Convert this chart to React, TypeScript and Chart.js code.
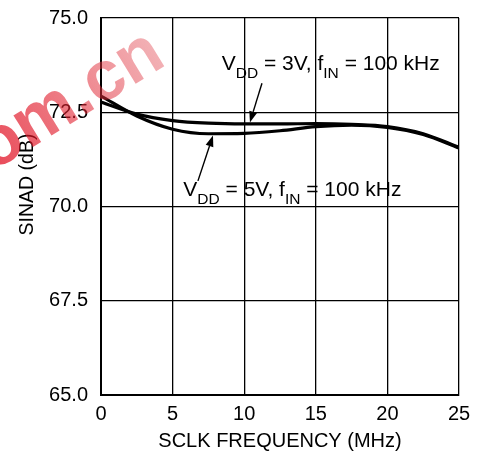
import React, { useEffect, useRef } from "react";
import { Chart, registerables } from "chart.js";

Chart.register(...registerables);

const sclkMHz = [0, 2.5, 5, 7.5, 10, 12.5, 15, 17.5, 20, 22.5, 25];
const sinad3V = [72.77, 72.45, 72.28, 72.21, 72.19, 72.19, 72.2, 72.18, 72.12, 71.93, 71.57];
const sinad5V = [72.93, 72.4, 72.05, 71.93, 71.94, 72.01, 72.12, 72.16, 72.1, 71.91, 71.55];
const xTickValues = [0, 5, 10, 15, 20, 25];
const yTickValues = [65, 67.5, 70, 72.5, 75];
const xTitle = "SCLK FREQUENCY (MHz)";
const yTitle = "SINAD (dB)";
const watermarkText = "om.cn";

// annotation labels: text pieces (normal / subscript), anchor and arrow in data units
const label3V = [["V", false], ["DD", true], [" = 3V, f", false], ["IN", true], [" = 100 kHz", false]];
const label5V = [["V", false], ["DD", true], [" = 5V, f", false], ["IN", true], [" = 100 kHz", false]];
const annotations = [
  { parts: label3V, x: 8.43, y: 73.61, from: [11.24, 73.27], to: [10.4, 72.23] },
  { parts: label5V, x: 5.75, y: 70.28, from: [6.77, 70.68], to: [7.82, 71.88] },
];

const FONT = "'Liberation Sans', Arial, Helvetica, sans-serif";

const annotationPlugin = {
  id: "annotations",
  afterDatasetsDraw(chart: any) {
    const { ctx, scales } = chart;
    const xs = scales.x;
    const ys = scales.y;
    ctx.save();
    ctx.fillStyle = "#000";
    ctx.strokeStyle = "#000";
    ctx.textBaseline = "alphabetic";
    for (const a of annotations) {
      let px = xs.getPixelForValue(a.x);
      const py = ys.getPixelForValue(a.y);
      for (const [t, sub] of a.parts as any) {
        ctx.font = sub ? `15.5px ${FONT}` : `21px ${FONT}`;
        ctx.fillText(t, px, sub ? py + 8 : py);
        px += ctx.measureText(t).width;
      }
      const x1 = xs.getPixelForValue(a.from[0]);
      const y1 = ys.getPixelForValue(a.from[1]);
      const x2 = xs.getPixelForValue(a.to[0]);
      const y2 = ys.getPixelForValue(a.to[1]);
      const ang = Math.atan2(y2 - y1, x2 - x1);
      const L = 11;
      const W = 4;
      const bx = x2 - L * Math.cos(ang);
      const by = y2 - L * Math.sin(ang);
      ctx.lineWidth = 1.4;
      ctx.beginPath();
      ctx.moveTo(x1, y1);
      ctx.lineTo(bx, by);
      ctx.stroke();
      ctx.beginPath();
      ctx.moveTo(x2, y2);
      ctx.lineTo(bx + W * Math.sin(ang), by - W * Math.cos(ang));
      ctx.lineTo(bx - W * Math.sin(ang), by + W * Math.cos(ang));
      ctx.closePath();
      ctx.fill();
    }
    ctx.restore();
  },
  afterDraw(chart: any) {
    const { ctx, chartArea } = chart;
    ctx.save();
    // y axis title
    ctx.fillStyle = "#000";
    ctx.font = `19.5px ${FONT}`;
    ctx.textAlign = "center";
    ctx.textBaseline = "middle";
    ctx.translate(28, (chartArea.top + chartArea.bottom) / 2 - 22);
    ctx.rotate(-Math.PI / 2);
    ctx.fillText(yTitle, 0, 0);
    ctx.restore();
    // watermark
    ctx.save();
    ctx.translate(168, 64);
    ctx.rotate(-0.55);
    ctx.font = `bold 70px ${FONT}`;
    const w = ctx.measureText(watermarkText).width;
    const g = ctx.createLinearGradient(-w, 0, 0, 0);
    g.addColorStop(0, "rgba(225, 10, 30, 0.75)");
    g.addColorStop(0.45, "rgba(225, 30, 45, 0.6)");
    g.addColorStop(1, "rgba(225, 70, 80, 0.42)");
    ctx.fillStyle = g;
    ctx.textAlign = "right";
    ctx.textBaseline = "alphabetic";
    ctx.fillText(watermarkText, 0, 0);
    ctx.restore();
  },
};

export default function App() {
  const ref = useRef<HTMLCanvasElement | null>(null);
  useEffect(() => {
    if (!ref.current) return;
    const tickFont = { family: FONT, size: 20 };
    const chart = new Chart(ref.current, {
      type: "line",
      data: {
        datasets: [
          {
            label: "VDD = 3V",
            data: sclkMHz.map((x, i) => ({ x, y: sinad3V[i] })),
            borderColor: "#000",
            borderWidth: 3.2,
            pointRadius: 0,
            cubicInterpolationMode: "monotone",
            fill: false,
          },
          {
            label: "VDD = 5V",
            data: sclkMHz.map((x, i) => ({ x, y: sinad5V[i] })),
            borderColor: "#000",
            borderWidth: 3.2,
            pointRadius: 0,
            cubicInterpolationMode: "monotone",
            fill: false,
          },
        ],
      },
      options: {
        animation: false,
        responsive: false,
        devicePixelRatio: 1,
        layout: { padding: { top: 18, right: 21, left: 0, bottom: 0 } },
        plugins: { legend: { display: false }, tooltip: { enabled: false } },
        scales: {
          x: {
            type: "linear",
            min: 0,
            max: 25,
            afterBuildTicks: (s: any) => {
              s.ticks = xTickValues.map((v) => ({ value: v }));
            },
            ticks: { color: "#000", font: tickFont, padding: 7, maxRotation: 0 },
            grid: { color: "#000", lineWidth: 1.3, drawTicks: false },
            border: { color: "#000", width: 2 },
            title: {
              display: true,
              text: xTitle,
              color: "#000",
              font: { family: FONT, size: 20 },
              padding: { top: 2, bottom: 10 },
            },
            afterFit: (s: any) => {
              s.height = 68;
              s.paddingLeft = 0;
              s.paddingRight = 0;
            },
          },
          y: {
            type: "linear",
            min: 65,
            max: 75,
            afterBuildTicks: (s: any) => {
              s.ticks = yTickValues.map((v) => ({ value: v }));
            },
            ticks: {
              color: "#000",
              font: tickFont,
              padding: 13,
              callback: (v: any) => Number(v).toFixed(1),
            },
            grid: { color: "#000", lineWidth: 1.3, drawTicks: false },
            border: { color: "#000", width: 2 },
            afterFit: (s: any) => {
              s.width = 101;
              s.paddingTop = 0;
              s.paddingBottom = 0;
            },
          },
        },
      },
      plugins: [annotationPlugin],
    } as any);
    return () => chart.destroy();
  }, []);
  return (
    <div style={{ position: "absolute", left: 0, top: 0, width: 480, height: 463, background: "#fff" }}>
      <canvas ref={ref} width={480} height={463} style={{ width: 480, height: 463 }} />
    </div>
  );
}
